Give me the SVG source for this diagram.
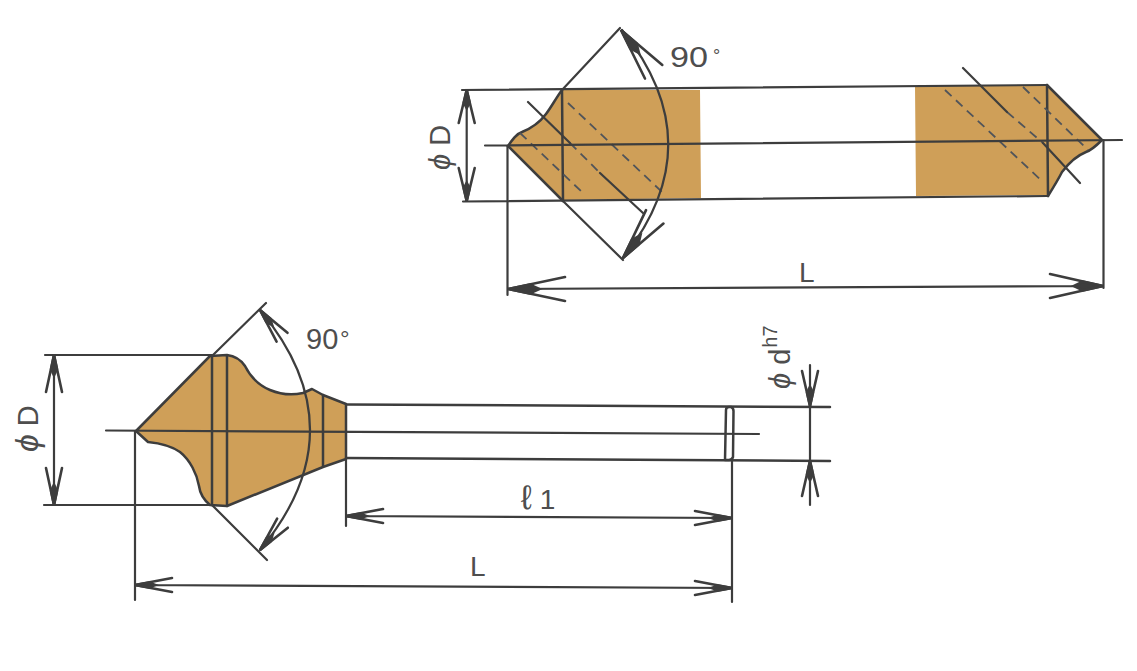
<svg xmlns="http://www.w3.org/2000/svg" width="1137" height="671" viewBox="0 0 1137 671">
<style>
.body{fill:#cf9f58;stroke:none}
.edge{fill:none;stroke:#3d3d3d;stroke-width:2.5;stroke-linejoin:round;stroke-linecap:round}
.thin{fill:none;stroke:#3d3d3d;stroke-width:2.2;stroke-linecap:round}
.dash{fill:none;stroke:#50545a;stroke-width:1.8;stroke-dasharray:9 6}
.head path{vector-effect:non-scaling-stroke;stroke:#3d3d3d;stroke-width:2.6;stroke-linecap:round}
.lbl{font-family:"Liberation Sans",Arial,sans-serif;fill:#4e4e4e}
.phi{font-style:italic}
</style>
<defs>
<g id="h" class="head"><path d="M-1,-1L0,0L-1,1" fill="none"/><path d="M0,0L-.38,-.36L-.55,0L-.38,.36Z" fill="#3d3d3d"/></g>
</defs>
<rect width="1137" height="671" fill="#ffffff"/>
<g id="double-end-tool">
<path class="body" d="M508,146 C512,140 516,134 522,132 C532,128 540,122 546,114 C552,106 556,98 562,90 L700,90 L701,198 L562,200 Z"/>
<path class="body" d="M915,86 L1047,85 L1102,140 C1096,146 1092,150 1086,152 C1076,156 1068,164 1062,172 C1058,180 1053,188 1048,195 L916,196 Z"/>
<path class="edge" d="M508,146 C512,140 516,134 522,132 C532,128 540,122 546,114 C552,106 556,98 562,90"/>
<path class="edge" d="M508,146 L563,201"/>
<path class="edge" d="M1047,85 L1102,140 C1096,146 1092,150 1086,152 C1076,156 1068,164 1062,172 C1058,180 1053,188 1048,196"/>
<path class="edge" d="M562,90 L563,201M1047,85 L1048,196"/>
<path class="dash" d="M568,103L662,192M520,133L583,193M945,90L1043,182M1023,87L1088,150"/>
<path class="dash" d="M570,143L600,173M1007,112L1043,143"/>
</g>
<g id="single-end-tool">
<path class="body" d="M136,431 L210,356 L227,355 C235,356 241,360 245,366 C250,376 258,385 270,390 C282,395 294,395 303,393 L312,389 L323,395 L346,404 L346,459 L323,467 L227,506 L210,505 C204,500 200,494 199,486 C197,474 190,460 180,452 C170,445 158,443 148,442 Z"/>
<path class="edge" d="M136,431 L210,356 L227,355 C235,356 241,360 245,366 C250,376 258,385 270,390 C282,395 294,395 303,393 L312,389 L323,395 L346,404 L346,459 L323,467 L227,506 L210,505 C204,500 200,494 199,486 C197,474 190,460 180,452 C170,445 158,443 148,442 Z"/>
<path class="edge" d="M212,356V505M227,356V506M323,395V466"/>
<path class="edge" d="M346,404.500L830,407M346,458L830,461"/>
<path class="edge" d="M725,460L726,410Q726,407 729,407L731,407Q733.500,408 733.500,411L733,457Q732,460 729,460Z"/>
</g>
<g id="connectors">
<path class="thin" d="M462,90L1047,85M463,201.500L1047,196M485,145.500L1122,140"/>
<path class="thin" d="M620,28L562,90M623,260L563,201"/>
<path class="thin" d="M622,30Q714,144 623,258"/>
<path class="thin" d="M528,102L570,143M600,173L643,213M963,68L1007,112M1043,143L1080,183"/>
<path class="thin" d="M466.700,90V201"/>
<path class="thin" d="M507.500,146V295M1103.500,140V288M508,289L1103,286"/>
<path class="thin" d="M45,355H212M44,505H212M54,355V505"/>
<path class="thin" d="M106,430.500L759,434"/>
<path class="thin" d="M266,303L212,356M267,560L212,505"/>
<path class="thin" d="M260,310Q360,430 260,550"/>
<path class="thin" d="M135,431V600M732,460V602M346,459V526M135,585L732,588M346,516L732,518"/>
<path class="thin" d="M810,365V505"/>
<use href="#h" transform="translate(466.700 90) rotate(-90) scale(33 8)"/>
<use href="#h" transform="translate(466.700 201) rotate(90) scale(33 8)"/>
<use href="#h" transform="translate(508 289) rotate(180) scale(57 12)"/>
<use href="#h" transform="translate(1103 286) scale(53 12)"/>
<use href="#h" transform="translate(621 30) rotate(-128) scale(53 11)"/>
<use href="#h" transform="translate(623 258) rotate(127.600) scale(52 11)"/>
<use href="#h" transform="translate(54 355) rotate(-90) scale(37 8)"/>
<use href="#h" transform="translate(54 505) rotate(90) scale(37 8)"/>
<use href="#h" transform="translate(260 310) rotate(-129) scale(35 7)"/>
<use href="#h" transform="translate(260 550) rotate(130) scale(35 7)"/>
<use href="#h" transform="translate(135 585) rotate(180) scale(37 7)"/>
<use href="#h" transform="translate(732 588) scale(37 7)"/>
<use href="#h" transform="translate(346 516) rotate(180) scale(37 7)"/>
<use href="#h" transform="translate(732 518) scale(37 7)"/>
<use href="#h" transform="translate(810 406) rotate(90) scale(35 8)"/>
<use href="#h" transform="translate(810 461) rotate(-90) scale(35 8)"/>
</g>
<g id="labels">
<text class="lbl" x="670" y="67" font-size="29" textLength="38" lengthAdjust="spacingAndGlyphs">90</text>
<text class="lbl" x="713" y="62" font-size="18">°</text>
<text class="lbl" x="306" y="349" font-size="29">90</text>
<text class="lbl" x="340" y="347" font-size="24">°</text>
<text class="lbl" x="799" y="282" font-size="28">L</text>
<text class="lbl" x="470" y="576" font-size="28">L</text>
<text class="lbl" x="521" y="509" font-size="28"><tspan font-size="34">ℓ</tspan> 1</text>
<text class="lbl" font-size="29" transform="translate(450 170) rotate(-90)"><tspan class="phi">ϕ</tspan> D</text>
<text class="lbl" font-size="29" transform="translate(38 452) rotate(-90)"><tspan class="phi" font-size="32">ϕ</tspan> D</text>
<text class="lbl" font-size="29" transform="translate(790 389) rotate(-90)"><tspan class="phi">ϕ</tspan> d<tspan font-size="20" dy="-13" dx="1">h7</tspan></text>
</g>
</svg>
